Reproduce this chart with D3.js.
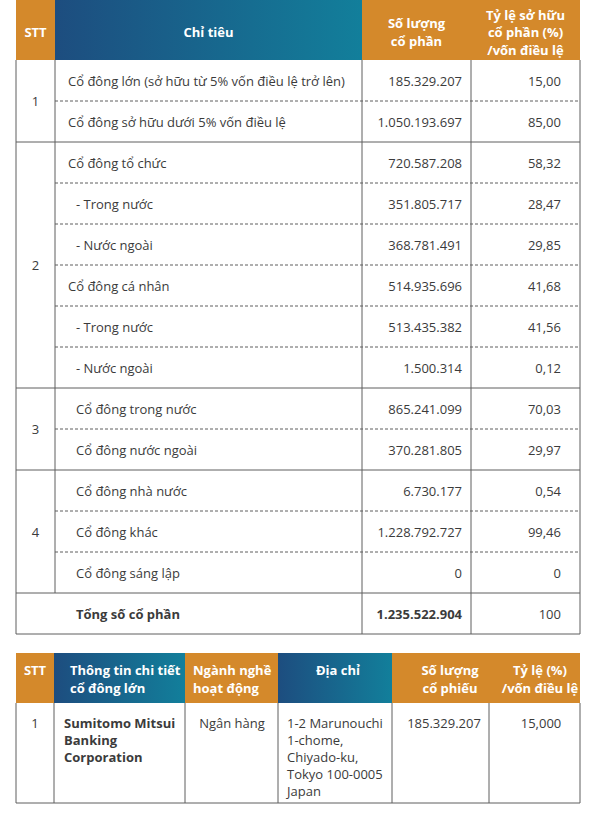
<!DOCTYPE html>
<html>
<head>
<meta charset="utf-8">
<script src="https://cdn.jsdelivr.net/npm/d3@7/dist/d3.min.js"></script>
<style>
  html, body { margin: 0; padding: 0; background: #fff; }
  svg { display: block; }
  text { font-family: "Open Sans", "Noto Sans", sans-serif; }
</style>
</head>
<body>
<div id="chart"></div>
<script>
// ---------- DATA ----------
const headers1 = [["STT"], ["Chỉ tiêu"], ["Số lượng", "cổ phần"], ["Tỷ lệ sở hữu", "cổ phần (%)", "/vốn điều lệ"]];
const groupLabels = ["1", "2", "3", "4"];
const indicators = [
  "Cổ đông lớn (sở hữu từ 5% vốn điều lệ trở lên)",
  "Cổ đông sở hữu dưới 5% vốn điều lệ",
  "Cổ đông tổ chức",
  " - Trong nước",
  " - Nước ngoài",
  "Cổ đông cá nhân",
  " - Trong nước",
  " - Nước ngoài",
  "Cổ đông trong nước",
  "Cổ đông nước ngoài",
  "Cổ đông nhà nước",
  "Cổ đông khác",
  "Cổ đông sáng lập"
];
const rowGroup = [0, 0, 1, 1, 1, 1, 1, 1, 2, 2, 3, 3, 3];
const shares = ["185.329.207", "1.050.193.697", "720.587.208", "351.805.717", "368.781.491", "514.935.696", "513.435.382", "1.500.314", "865.241.099", "370.281.805", "6.730.177", "1.228.792.727", "0"];
const ratios = ["15,00", "85,00", "58,32", "28,47", "29,85", "41,68", "41,56", "0,12", "70,03", "29,97", "0,54", "99,46", "0"];
const totalLabel = "Tổng số cổ phần";
const totalShares = "1.235.522.904";
const totalRatio = "100";

const headers2 = [["STT"], ["Thông tin chi tiết", "cổ đông lớn"], ["Ngành nghề", "hoạt động"], ["Địa chỉ"], ["Số lượng", "cổ phiếu"], ["Tỷ lệ (%)", "/vốn điều lệ"]];
const holderNo = ["1"];
const holderName = [["Sumitomo Mitsui", "Banking", "Corporation"]];
const holderIndustry = [["Ngân hàng"]];
const holderAddress = [["1-2 Marunouchi", "1-chome,", "Chiyado-ku,", "Tokyo 100-0005", "Japan"]];
const holderShares = [["185.329.207"]];
const holderRatio = [["15,000"]];

// ---------- STYLE ----------
const W = 600, H = 821;
const ORANGE = "#D4892B";
const TEXT = "#3b3b3b";
const LINE = "#5e5e5e";
const FS = 13;

const svg = d3.select("#chart").append("svg").attr("width", W).attr("height", H);
svg.append("rect").attr("width", W).attr("height", H).attr("fill", "#fff");

const defs = svg.append("defs");
const grad = defs.append("linearGradient").attr("id", "blueGrad").attr("x1", "0%").attr("x2", "100%").attr("y1", "0%").attr("y2", "0%");
grad.append("stop").attr("offset", "0%").attr("stop-color", "#1D4D7F");
grad.append("stop").attr("offset", "100%").attr("stop-color", "#127F9B");

// ---------- TABLE 1 ----------
const cols1 = [16, 55, 362, 471, 580];
const hdr1 = [0, 60];
const rowScale = d3.scaleBand().domain(d3.range(indicators.length + 1)).range([60, 634]);
const tableBottom1 = rowScale.range()[1];
const rh = rowScale.bandwidth();

const g1 = svg.append("g");
const hfill1 = [ORANGE, "url(#blueGrad)", ORANGE, ORANGE];
headers1.forEach((lines, i) => {
  g1.append("rect").attr("x", cols1[i]).attr("y", hdr1[0]).attr("width", cols1[i + 1] - cols1[i]).attr("height", hdr1[1] - hdr1[0]).attr("fill", hfill1[i]);
  const cx = (cols1[i] + cols1[i + 1]) / 2;
  const cy = (hdr1[0] + hdr1[1]) / 2 + 2;
  const lh = 17.5;
  lines.forEach((t, k) => {
    g1.append("text").attr("x", cx).attr("y", cy + (k - (lines.length - 1) / 2) * lh)
      .attr("text-anchor", "middle").attr("dominant-baseline", "central")
      .attr("fill", "#fff").attr("font-weight", 700).attr("font-size", FS).text(t);
  });
});

// group spans
const groupRows = groupLabels.map((g, gi) => {
  const idx = rowGroup.map((v, i) => v === gi ? i : -1).filter(i => i >= 0);
  return { label: g, first: d3.min(idx), last: d3.max(idx) };
});

// horizontal lines inside rows
indicators.forEach((t, i) => {
  if (i === 0) return;
  const y = rowScale(i);
  const solid = rowGroup[i] !== rowGroup[i - 1];
  g1.append("line").attr("x1", solid ? cols1[0] : cols1[1]).attr("x2", cols1[4])
    .attr("y1", y).attr("y2", y).attr("stroke", LINE).attr("stroke-width", 1)
    .attr("stroke-dasharray", solid ? null : "3,2");
});
// line above total
const yTot = rowScale(indicators.length);
g1.append("line").attr("x1", cols1[0]).attr("x2", cols1[4]).attr("y1", yTot).attr("y2", yTot).attr("stroke", LINE);
// bottom
g1.append("line").attr("x1", cols1[0]).attr("x2", cols1[4]).attr("y1", tableBottom1).attr("y2", tableBottom1).attr("stroke", LINE);
// verticals
[cols1[0], cols1[2], cols1[3], cols1[4]].forEach(x => {
  g1.append("line").attr("x1", x).attr("x2", x).attr("y1", hdr1[1]).attr("y2", tableBottom1).attr("stroke", LINE);
});
g1.append("line").attr("x1", cols1[1]).attr("x2", cols1[1]).attr("y1", hdr1[1]).attr("y2", yTot).attr("stroke", LINE);

// group labels
groupRows.forEach(gr => {
  const y = (rowScale(gr.first) + rowScale(gr.last) + rh) / 2;
  g1.append("text").attr("x", (cols1[0] + cols1[1]) / 2).attr("y", y)
    .attr("text-anchor", "middle").attr("dominant-baseline", "central")
    .attr("fill", TEXT).attr("font-size", FS).text(gr.label);
});

// rows
indicators.forEach((t, i) => {
  const y = rowScale(i) + rh / 2;
  const sub = t.trim().startsWith("-");
  const x = (sub || rowGroup[i] >= 2) ? 76 : 68;
  g1.append("text").attr("x", x).attr("y", y).attr("dominant-baseline", "central")
    .attr("fill", TEXT).attr("font-size", FS).text(t.trim());
  g1.append("text").attr("x", cols1[3] - 9).attr("y", y).attr("text-anchor", "end").attr("dominant-baseline", "central")
    .attr("fill", TEXT).attr("font-size", FS).text(shares[i]);
  g1.append("text").attr("x", cols1[4] - 19).attr("y", y).attr("text-anchor", "end").attr("dominant-baseline", "central")
    .attr("fill", TEXT).attr("font-size", FS).text(ratios[i]);
});
// total row
{
  const y = yTot + rh / 2;
  g1.append("text").attr("x", 76).attr("y", y).attr("dominant-baseline", "central")
    .attr("fill", TEXT).attr("font-size", FS).attr("font-weight", 700).text(totalLabel);
  g1.append("text").attr("x", cols1[3] - 9).attr("y", y).attr("text-anchor", "end").attr("dominant-baseline", "central")
    .attr("fill", TEXT).attr("font-size", FS).attr("font-weight", 700).text(totalShares);
  g1.append("text").attr("x", cols1[4] - 19).attr("y", y).attr("text-anchor", "end").attr("dominant-baseline", "central")
    .attr("fill", TEXT).attr("font-size", FS).text(totalRatio);
}

// ---------- TABLE 2 ----------
const cols2 = [16, 54, 185, 278, 392, 489, 580];
const hdr2 = [653, 703];
const body2 = [703, 803];
const g2 = svg.append("g");
const hfill2 = [ORANGE, "url(#blueGrad)", ORANGE, "url(#blueGrad)", ORANGE, ORANGE];
const hAlign = ["middle", "start", "start", "middle", "middle", "middle"];
const hX = [35, 70, 193, 338, 450, 540];
headers2.forEach((lines, i) => {
  g2.append("rect").attr("x", cols2[i]).attr("y", hdr2[0]).attr("width", cols2[i + 1] - cols2[i]).attr("height", hdr2[1] - hdr2[0]).attr("fill", hfill2[i]);
  lines.forEach((t, k) => {
    g2.append("text").attr("x", hX[i]).attr("y", 670 + k * 17.5)
      .attr("text-anchor", hAlign[i]).attr("dominant-baseline", "central")
      .attr("fill", "#fff").attr("font-weight", 700).attr("font-size", FS).text(t);
  });
});
// lines
cols2.forEach(x => {
  g2.append("line").attr("x1", x).attr("x2", x).attr("y1", body2[0]).attr("y2", body2[1]).attr("stroke", LINE);
});
g2.append("line").attr("x1", cols2[0]).attr("x2", cols2[6]).attr("y1", body2[1]).attr("y2", body2[1]).attr("stroke", LINE);

const cellCols = [
  { data: holderNo.map(d => [d]), x: 35, anchor: "middle", bold: false },
  { data: holderName, x: 64, anchor: "start", bold: true },
  { data: holderIndustry, x: 232, anchor: "middle", bold: false },
  { data: holderAddress, x: 287, anchor: "start", bold: false },
  { data: holderShares, x: 444, anchor: "middle", bold: false },
  { data: holderRatio, x: 541, anchor: "middle", bold: false }
];
cellCols.forEach(c => {
  c.data[0].forEach((t, k) => {
    g2.append("text").attr("x", c.x).attr("y", 723 + k * 17)
      .attr("text-anchor", c.anchor).attr("dominant-baseline", "central")
      .attr("fill", TEXT).attr("font-size", FS).attr("font-weight", c.bold ? 700 : 400).text(t);
  });
});
</script>
</body>
</html>
